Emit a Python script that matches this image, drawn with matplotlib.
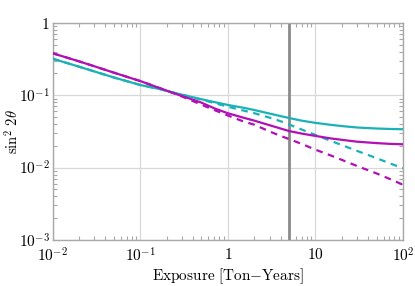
#!/usr/bin/env python3
"""Sensitivity vs exposure, log-log, two detectors with/without systematics."""

import matplotlib
matplotlib.use("Agg")
import matplotlib.pyplot as plt
from matplotlib.ticker import LogLocator, FixedLocator, NullFormatter

# ─── Data ────────────────────────────────────────────────────────────────────

exposure = [0.01, 0.02, 0.03, 0.05, 0.1, 0.168, 0.22, 0.3, 0.5, 0.7, 1,
            1.5, 2, 3, 3.94, 5, 7, 10, 15, 20, 30, 50, 70, 100]

teal_solid = [0.32, 0.248, 0.213, 0.176, 0.1385, 0.1215, 0.1115, 0.1017,
              0.088, 0.0805, 0.0734, 0.0672, 0.0625, 0.0558, 0.0517,
              0.0485, 0.0445, 0.0415, 0.039, 0.0375, 0.0358, 0.0347,
              0.0342, 0.0339]
teal_dashed = [0.32, 0.248, 0.213, 0.176, 0.1385, 0.1215, 0.1115, 0.1015,
               0.087, 0.078, 0.0695, 0.0615, 0.0565, 0.049, 0.044,
               0.0395, 0.0335, 0.0283, 0.0234, 0.0205, 0.017, 0.0135,
               0.0115, 0.0098]
magenta_solid = [0.38, 0.294, 0.251, 0.205, 0.157, 0.125, 0.111, 0.0976,
                 0.079, 0.066, 0.0564, 0.049, 0.0446, 0.0385, 0.0349,
                 0.032, 0.0295, 0.0274, 0.0253, 0.0242, 0.0228, 0.0218,
                 0.0213, 0.021]
magenta_dashed = [0.38, 0.294, 0.251, 0.205, 0.157, 0.125, 0.111, 0.096,
                  0.074, 0.0625, 0.0525, 0.0435, 0.0392, 0.0316, 0.0276,
                  0.0248, 0.0212, 0.0177, 0.0147, 0.0128, 0.0105, 0.0083,
                  0.007, 0.0058]

marker_exposure = 5.0

xticks = [1e-2, 1e-1, 1, 10, 1e2]
xtick_labels = [r"$10^{-2}$", r"$10^{-1}$", r"$1$", r"$10$", r"$10^{2}$"]
yticks = [1e-3, 1e-2, 1e-1, 1]
ytick_labels = [r"$10^{-3}$", r"$10^{-2}$", r"$10^{-1}$", r"$1$"]

TEAL = "#1ab2b6"
MAGENTA = "#b010b6"
FRAME = "#a8a8a8"

# ─── Plot ────────────────────────────────────────────────────────────────────

plt.rcParams["mathtext.fontset"] = "cm"
plt.rcParams["font.family"] = "serif"
plt.rcParams["font.serif"] = ["DejaVu Serif"]

fig = plt.figure(figsize=(4.15, 2.86), dpi=100)
ax = fig.add_axes([0.127, 0.161, 0.844, 0.759])

ax.set_xscale("log")
ax.set_yscale("log")
ax.set_xlim(1e-2, 1e2)
ax.set_ylim(1e-3, 1)

ax.grid(True, which="major", color="#d8d8d8", linewidth=0.9)
ax.set_axisbelow(True)

ax.axvline(marker_exposure, color="#8a8a8a", linewidth=2.0, zorder=2)

ax.plot(exposure, teal_dashed, color=TEAL, lw=1.6, ls=(0, (3, 2.5)), zorder=3)
ax.plot(exposure, magenta_dashed, color=MAGENTA, lw=1.6, ls=(0, (3, 2.5)), zorder=3)
ax.plot(exposure, teal_solid, color=TEAL, lw=1.6, zorder=4)
ax.plot(exposure, magenta_solid, color=MAGENTA, lw=1.6, zorder=4)

ax.xaxis.set_major_locator(FixedLocator(xticks))
ax.set_xticklabels(xtick_labels)
ax.yaxis.set_major_locator(FixedLocator(yticks))
ax.set_yticklabels(ytick_labels)
for axis in (ax.xaxis, ax.yaxis):
    axis.set_minor_locator(LogLocator(base=10, subs=range(2, 10), numticks=20))
    axis.set_minor_formatter(NullFormatter())

ax.tick_params(which="both", direction="in", top=True, right=True,
               color=FRAME, labelsize=11)
ax.tick_params(axis="y", pad=2)
ax.tick_params(axis="x", pad=5)
ax.tick_params(which="major", length=0)
ax.tick_params(which="minor", length=3, width=0.8)

for s in ax.spines.values():
    s.set_color(FRAME)
    s.set_linewidth(1.0)

ax.set_xlabel(r"$\mathrm{Exposure\ [Ton{-}Years]}$", fontsize=11, labelpad=1)
ax.set_ylabel(r"$\sin^2\,2\theta$", fontsize=10.5)
ax.yaxis.set_label_coords(-0.092, 0.5)

fig.savefig("out.png", dpi=100)
